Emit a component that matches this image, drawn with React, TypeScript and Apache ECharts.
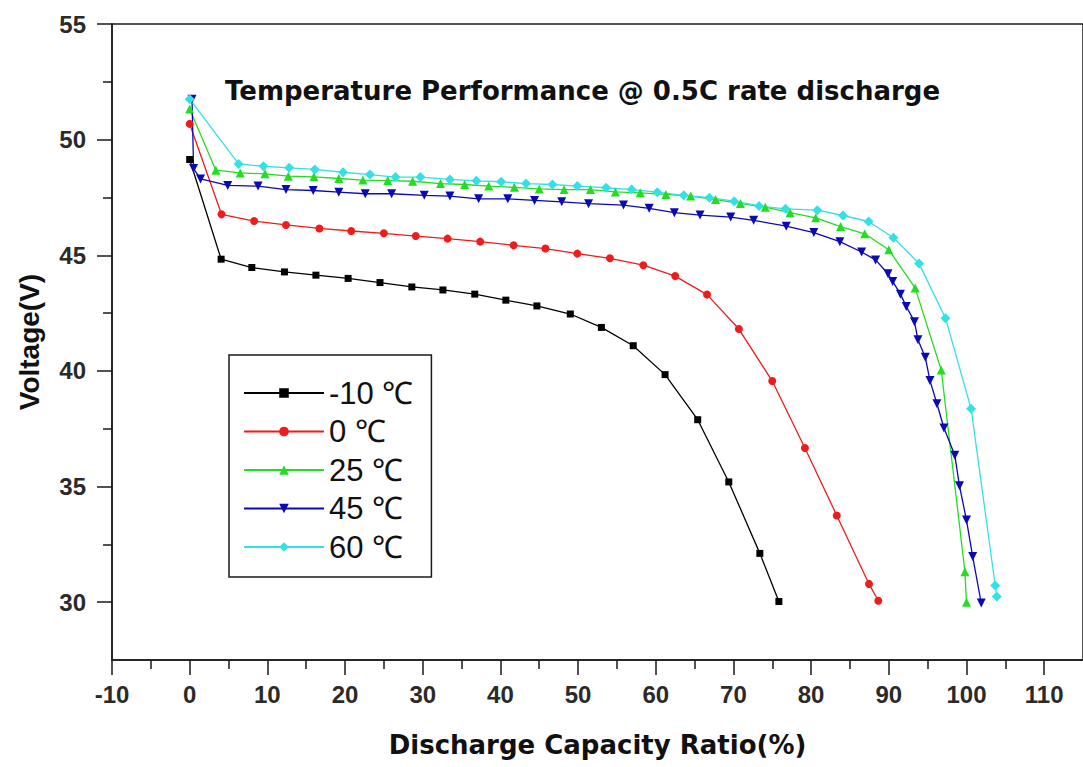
import React, { useEffect, useRef } from "react";
import * as echarts from "echarts";

const FONT = '"Liberation Sans", Arial, Helvetica, sans-serif';
const WIDE_FONT = '"DejaVu Sans", Verdana, sans-serif';
const NARROW_FONT = '"Liberation Sans Narrow", "Arial Narrow", "Liberation Sans", sans-serif';

// -10 ℃
const capM10 = [0, 4.05, 8, 12.2, 16.25, 20.4, 24.5, 28.6, 32.6, 36.7, 40.7, 44.7, 49.0, 53.0, 57.1, 61.2, 65.4, 69.4, 73.4, 75.85];
const voltM10 = [49.14, 44.83, 44.47, 44.28, 44.14, 44.0, 43.82, 43.63, 43.5, 43.32, 43.06, 42.81, 42.46, 41.88, 41.09, 39.84, 37.89, 35.2, 32.11, 30.03];

// 0 ℃
const cap0 = [0, 4.1, 8.3, 12.4, 16.7, 20.8, 25.0, 29.1, 33.2, 37.4, 41.7, 45.8, 49.9, 54.1, 58.4, 62.5, 66.6, 70.7, 75.0, 79.2, 83.3, 87.45, 88.65];
const volt0 = [50.68, 46.77, 46.48, 46.31, 46.16, 46.05, 45.95, 45.83, 45.72, 45.59, 45.43, 45.29, 45.07, 44.87, 44.57, 44.1, 43.3, 41.81, 39.56, 36.67, 33.75, 30.79, 30.06];

// 25 ℃
const cap25 = [0, 3.37, 6.5, 9.7, 12.7, 16.0, 19.2, 22.3, 25.5, 28.7, 32.3, 35.4, 38.5, 41.8, 45.0, 48.2, 51.6, 54.8, 58.0, 61.3, 64.5, 67.7, 70.9, 74.1, 77.3, 80.6, 83.8, 86.9, 90.0, 93.4, 96.75, 99.8, 100.0];
const volt25 = [51.32, 48.68, 48.56, 48.52, 48.42, 48.39, 48.32, 48.25, 48.23, 48.2, 48.1, 48.06, 47.99, 47.94, 47.87, 47.84, 47.84, 47.74, 47.7, 47.63, 47.56, 47.41, 47.24, 47.08, 46.84, 46.62, 46.24, 45.93, 45.24, 43.58, 40.04, 31.32, 30.0];

// 45 ℃
const cap45 = [0.3, 0.5, 1.4, 4.9, 8.8, 12.4, 15.9, 19.2, 22.6, 26.0, 30.2, 33.5, 37.2, 40.95, 44.4, 47.9, 51.35, 55.85, 59.15, 62.4, 65.7, 69.65, 72.6, 76.8, 80.35, 83.7, 86.5, 88.3, 89.9, 90.5, 91.5, 92.25, 93.3, 93.75, 94.7, 95.3, 96.2, 97.1, 98.5, 99.1, 100.0, 100.8, 101.9];
const volt45 = [51.75, 48.75, 48.3, 48.02, 47.99, 47.84, 47.8, 47.73, 47.66, 47.66, 47.59, 47.56, 47.44, 47.44, 47.37, 47.31, 47.23, 47.17, 47.03, 46.84, 46.74, 46.65, 46.51, 46.26, 45.98, 45.59, 45.14, 44.8, 44.2, 43.87, 43.32, 42.79, 42.13, 41.35, 40.59, 39.58, 38.58, 37.53, 36.35, 35.03, 33.55, 31.97, 29.96];

// 60 ℃
const cap60 = [0, 6.3, 9.5, 12.8, 16.1, 19.75, 23.2, 26.5, 29.7, 33.5, 36.9, 40.1, 43.3, 46.7, 49.9, 53.6, 56.9, 60.2, 63.6, 66.9, 70.1, 73.3, 76.7, 80.8, 84.1, 87.4, 90.6, 93.9, 97.3, 100.6, 103.7, 103.9];
const volt60 = [51.75, 48.95, 48.85, 48.78, 48.71, 48.59, 48.49, 48.38, 48.38, 48.28, 48.22, 48.18, 48.1, 48.06, 47.99, 47.92, 47.84, 47.73, 47.59, 47.49, 47.34, 47.13, 47.01, 46.95, 46.72, 46.46, 45.76, 44.64, 42.28, 38.36, 30.72, 30.25];

const seriesNames = ["-10 ℃", "0 ℃", "25 ℃", "45 ℃", "60 ℃"];
const xMajorTicks = [-10, 0, 10, 20, 30, 40, 50, 60, 70, 80, 90, 100, 110];
const xMinorTicks = [-5, 5, 15, 25, 35, 45, 55, 65, 75, 85, 95, 105];
const yMajorTicks = [30, 35, 40, 45, 50, 55];
const yMinorTicks = [32.5, 37.5, 42.5, 47.5, 52.5];

const zip = (xs: number[], ys: number[]) => xs.map((x, i) => [x, ys[i]]);

const AXIS_COLOR = "#1a1a1a";

export default function App() {
  const ref = useRef<HTMLDivElement>(null);
  useEffect(() => {
    const chart = echarts.init(ref.current!, null, { renderer: "svg" });
    const mk = (name: string, data: number[][], color: string, symbol: string, rotate = 0, size = 8) => ({
      name,
      type: "line",
      data,
      symbol,
      symbolSize: size,
      symbolRotate: rotate,
      showAllSymbol: true,
      lineStyle: { color, width: 1.3 },
      itemStyle: { color },
      emphasis: { disabled: true },
      z: 3,
    });
    const option: any = {
      animation: false,
      backgroundColor: "#ffffff",
      title: {
        text: "Temperature Performance @ 0.5C rate discharge",
        left: 225,
        top: 78,
        padding: 0,
        textStyle: { fontFamily: WIDE_FONT, fontSize: 26, fontWeight: "bold", color: "#111" },
      },
      grid: {
        left: 112,
        top: 24,
        width: 973,
        height: 636,
        show: true,
        borderColor: AXIS_COLOR,
        borderWidth: 1.5,
        backgroundColor: "transparent",
      },
      legend: {
        orient: "vertical",
        left: 229,
        top: 355,
        itemWidth: 80,
        itemHeight: 12,
        itemGap: 6.5,
        padding: [22, 18, 14, 14],
        borderColor: AXIS_COLOR,
        borderWidth: 1.5,
        data: seriesNames,
        textStyle: { fontFamily: NARROW_FONT, fontSize: 31, color: "#111", lineHeight: 32 },
      },
      xAxis: [
        {
          type: "value",
          min: -10,
          max: 115,
          position: "bottom",
          axisLine: { show: true, onZero: false, lineStyle: { color: AXIS_COLOR, width: 1.5 } },
          axisTick: { show: true, length: 15, customValues: xMajorTicks, lineStyle: { color: AXIS_COLOR, width: 1.5 } },
          axisLabel: {
            customValues: xMajorTicks,
            margin: 22,
            fontFamily: FONT,
            fontSize: 24,
            fontWeight: "bold",
            color: "#2a2a2a",
          },
          splitLine: { show: false },
          name: "Discharge Capacity Ratio(%)",
          nameLocation: "middle",
          nameGap: 72,
          nameTextStyle: { fontFamily: WIDE_FONT, fontSize: 26, fontWeight: "bold", color: "#111" },
        },
        {
          type: "value",
          min: -10,
          max: 115,
          position: "bottom",
          axisLine: { show: false, onZero: false },
          axisTick: { show: true, length: 9, customValues: xMinorTicks, lineStyle: { color: AXIS_COLOR, width: 1.5 } },
          axisLabel: { show: false },
          splitLine: { show: false },
        },
      ],
      yAxis: [
        {
          type: "value",
          min: 27.5,
          max: 55,
          position: "left",
          axisLine: { show: true, onZero: false, lineStyle: { color: AXIS_COLOR, width: 1.5 } },
          axisTick: { show: true, length: 15, customValues: yMajorTicks, lineStyle: { color: AXIS_COLOR, width: 1.5 } },
          axisLabel: {
            customValues: yMajorTicks,
            margin: 26,
            fontFamily: FONT,
            fontSize: 24,
            fontWeight: "bold",
            color: "#2a2a2a",
          },
          splitLine: { show: false },
          name: "Voltage(V)",
          nameLocation: "middle",
          nameGap: 69,
          nameTextStyle: { fontFamily: FONT, fontSize: 28, fontWeight: "bold", color: "#111" },
        },
        {
          type: "value",
          min: 27.5,
          max: 55,
          position: "left",
          axisLine: { show: false, onZero: false },
          axisTick: { show: true, length: 9, customValues: yMinorTicks, lineStyle: { color: AXIS_COLOR, width: 1.5 } },
          axisLabel: { show: false },
          splitLine: { show: false },
        },
      ],
      series: [
        mk(seriesNames[0], zip(capM10, voltM10), "#000000", "rect", 0, 7),
        mk(seriesNames[1], zip(cap0, volt0), "#ee1c1c", "circle", 0, 8),
        mk(seriesNames[2], zip(cap25, volt25), "#22dd22", "triangle", 0, 9),
        mk(seriesNames[3], zip(cap45, volt45), "#0a0ab4", "triangle", 180, 9),
        mk(seriesNames[4], zip(cap60, volt60), "#33e0e6", "diamond", 0, 10),
      ],
    };
    chart.setOption(option);
    return () => chart.dispose();
  }, []);
  return (
    <div
      ref={ref}
      style={{ position: "fixed", left: 0, top: 0, width: 1083, height: 767, background: "#ffffff" }}
    />
  );
}
